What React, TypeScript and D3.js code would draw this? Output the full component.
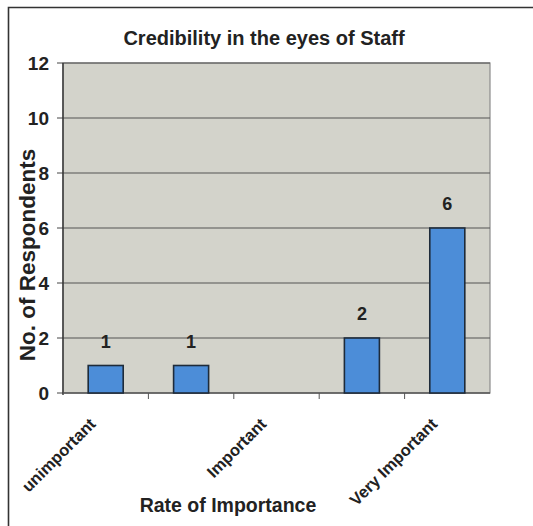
import React from 'react'
import * as d3 from 'd3'

// rating scale, Excel only printed every other label
const categories = ['unimportant', 'fairly unimportant', 'Important', 'fairly important', 'Very Important']
const shownLabels = ['unimportant', 'Important', 'Very Important']
const respondents = [1, 1, 0, 2, 6]
const yTicks = [0, 2, 4, 6, 8, 10, 12]

const W = 533
const H = 526
const plot = { left: 63, right: 490, top: 63, bottom: 393 }
const font = '"Liberation Sans", Arial, sans-serif'

export default function App() {
  const x = d3
    .scaleBand<string>()
    .domain(categories)
    .range([plot.left, plot.right])
    .paddingInner(0.59)
    .paddingOuter(0.295)

  const band = d3.scaleBand<string>().domain(categories).range([plot.left, plot.right])
  const y = d3.scaleLinear().domain([0, 12]).range([plot.bottom, plot.top])

  return (
    <svg
      width={W}
      height={H}
      style={{ position: 'absolute', left: 0, top: 0, background: '#fff' }}
      fontFamily={font}
    >
      {/* outer chart frame, cut off on the right and bottom */}
      <path d={`M8.5,${H} V7.5 H${W}`} fill="none" stroke="#333" strokeWidth={1.6} />

      <text x={264} y={45} textAnchor="middle" fontSize={20} fontWeight="bold" fill="#222">
        Credibility in the eyes of Staff
      </text>

      <rect
        x={plot.left}
        y={plot.top}
        width={plot.right - plot.left}
        height={plot.bottom - plot.top}
        fill="#d3d3cb"
        stroke="#8c8c8c"
        strokeWidth={1.2}
      />

      {yTicks.map((t) => (
        <g key={t}>
          {t > 0 && (
            <line x1={plot.left} x2={plot.right} y1={y(t)} y2={y(t)} stroke="#555" strokeWidth={1.1} />
          )}
          <line x1={plot.left - 6} x2={plot.left} y1={y(t)} y2={y(t)} stroke="#444" />
          <text
            x={49}
            y={y(t)}
            dy="0.36em"
            textAnchor="end"
            fontSize={19}
            fontWeight="bold"
            fill="#222"
          >
            {t}
          </text>
        </g>
      ))}

      {/* axes */}
      <line x1={plot.left} x2={plot.left} y1={plot.top} y2={plot.bottom + 2} stroke="#333" strokeWidth={1.4} />
      <line x1={plot.left} x2={plot.right} y1={plot.bottom} y2={plot.bottom} stroke="#555" strokeWidth={1.4} />
      {categories.slice(1).map((c) => (
        <line key={c} x1={band(c)!} x2={band(c)!} y1={plot.bottom} y2={plot.bottom + 6} stroke="#555" />
      ))}

      {categories.map((c, i) => (
        <g key={c}>
          <rect
            x={x(c)!}
            y={y(respondents[i])}
            width={x.bandwidth()}
            height={y(0) - y(respondents[i])}
            fill="#4c8dd8"
            stroke="#1e2b3a"
            strokeWidth={1.6}
          />
          {respondents[i] > 0 && (
            <text
              x={x(c)! + x.bandwidth() / 2}
              y={y(respondents[i]) - 18}
              textAnchor="middle"
              fontSize={18}
              fontWeight="bold"
              fill="#222"
            >
              {respondents[i]}
            </text>
          )}
          {shownLabels.includes(c) && (
            <text
              transform={`translate(${band(c)! + band.bandwidth() / 2 - 9},${plot.bottom + 32}) rotate(-45)`}
              textAnchor="end"
              fontSize={16.5}
              fontWeight="bold"
              fill="#222"
            >
              {c}
            </text>
          )}
        </g>
      ))}

      <text
        transform={`translate(35,255) rotate(-90)`}
        textAnchor="middle"
        fontSize={22.5}
        fontWeight="bold"
        fill="#222"
      >
        No. of Respondents
      </text>
      <text x={228} y={512} textAnchor="middle" fontSize={19.5} fontWeight="bold" fill="#222">
        Rate of Importance
      </text>
    </svg>
  )
}
